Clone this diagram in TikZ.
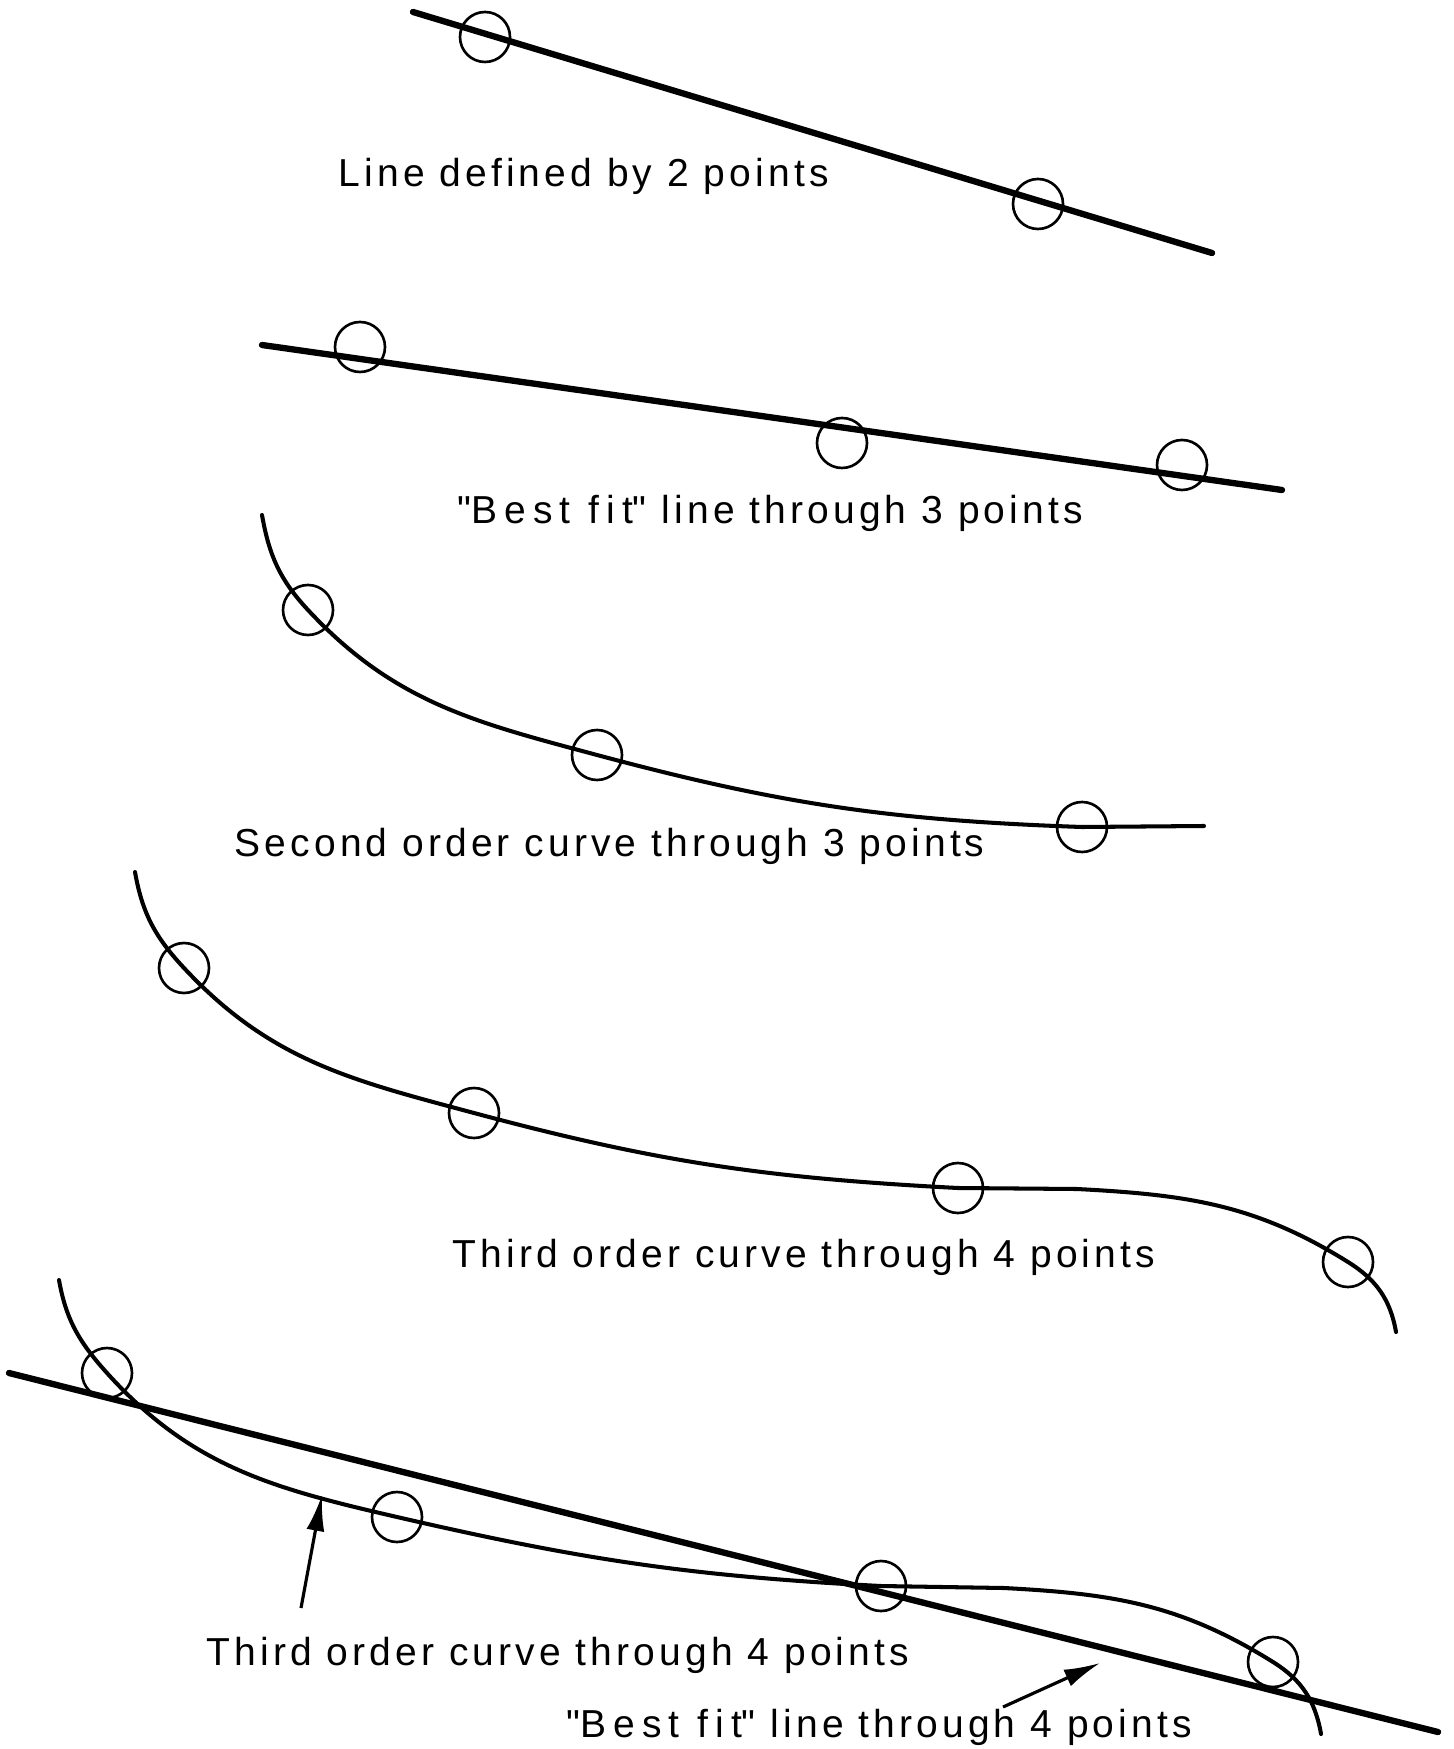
\documentclass[tikz,border=0pt]{standalone}
\usepackage{fontspec}
\setmainfont{Liberation Sans}[LetterSpace=10.5]
\usepackage{tikz}
\usetikzlibrary{arrows.meta}

\newcommand{\bestfit}{{\addfontfeature{LetterSpace=18}\textquotedbl Best fit\textquotedbl}}

\begin{document}
\begin{tikzpicture}[
  x=0.1mm, y=-0.1mm,
  font=\fontsize{11.1}{13}\selectfont,
  pt/.style={circle, draw, line width=0.75pt, minimum size=5mm, inner sep=0pt},
  fitline/.style={line width=1.8pt, line cap=round},
  crv/.style={line width=1.15pt, line cap=round},
  lbl/.style={anchor=base west, inner sep=0pt},
  ptr/.style={-{Latex[length=3.6mm,width=1.8mm]}, line width=0.9pt},
]
\useasboundingbox (0,0) rectangle (1453,1749);

% ---------- line defined by 2 points ----------
\coordinate (l1a) at (413,12);
\coordinate (l1b) at (1212,253);
\node[pt] (p11) at (485,37) {};
\node[pt] (p12) at (1038,204) {};
\draw[fitline] (l1a) -- (l1b);
\node[lbl] (t1) at (338,187) {Line defined by 2 points};

% ---------- best fit line, 3 points ----------
\coordinate (l2a) at (262,345);
\coordinate (l2b) at (1282,490);
\node[pt] (p21) at (360,347) {};
\node[pt] (p22) at (842,443) {};
\node[pt] (p23) at (1182,465) {};
\draw[fitline] (l2a) -- (l2b);
\node[lbl] (t2) at (457,524) {\bestfit\ line through 3 points};

% ---------- second order curve ----------
\coordinate (s3) at (262,515);
\coordinate (e3) at (1204,826);
\node[pt] (p31) at (308,610) {};
\node[pt] (p32) at (597,755) {};
\node[pt] (p33) at (1082,827) {};
\draw[crv] (s3) to[out=-80,in=133] (p31.center) to[out=-47,in=165] (p32.center)
  to[out=-15,in=178] (p33.center) -- (e3);
\node[lbl] (t3) at (234,856) {Second order curve through 3 points};

% ---------- third order curve ----------
\coordinate (s4) at (135,872);
\coordinate (j4) at (1077,1189);
\coordinate (e4) at (1396,1332);
\node[pt] (p41) at (184,968) {};
\node[pt] (p42) at (474,1113) {};
\node[pt] (p43) at (958,1188) {};
\node[pt] (p44) at (1348,1262) {};
\draw[crv] (s4) to[out=-80,in=133] (p41.center) to[out=-47,in=165] (p42.center)
  to[out=-15,in=177] (p43.center) -- (j4) to[out=-3,in=148] (p44.center)
  to[out=-32,in=100] (e4);
\node[lbl] (t4) at (452,1267) {Third order curve through 4 points};

% ---------- both fits, 4 points ----------
\coordinate (l5a) at (9,1373);
\coordinate (l5b) at (1438,1732);
\coordinate (s5) at (59,1280);
\coordinate (j5) at (1004,1588);
\coordinate (e5) at (1321,1734);
\node[pt] (p51) at (107,1373) {};
\node[pt] (p52) at (397,1517) {};
\node[pt] (p53) at (881,1586) {};
\node[pt] (p54) at (1273,1662) {};
\draw[fitline] (l5a) -- (l5b);
\draw[crv] (s5) to[out=-80,in=132] (p51.center) to[out=-48,in=167] (p52.center)
  to[out=-13,in=177] (p53.center) -- (j5) to[out=-3,in=148] (p54.center)
  to[out=-32,in=100] (e5);
\node[lbl] (t5) at (206,1665) {Third order curve through 4 points};
\node[lbl] (t6) at (566,1737) {\bestfit\ line through 4 points};

\coordinate (a1s) at (301,1608);
\coordinate (a1e) at (322,1495);
\coordinate (a2s) at (1003,1707);
\coordinate (a2e) at (1100,1663);
\draw[ptr] (a1s) -- (a1e);
\draw[ptr] (a2s) -- (a2e);

\end{tikzpicture}
\end{document}
